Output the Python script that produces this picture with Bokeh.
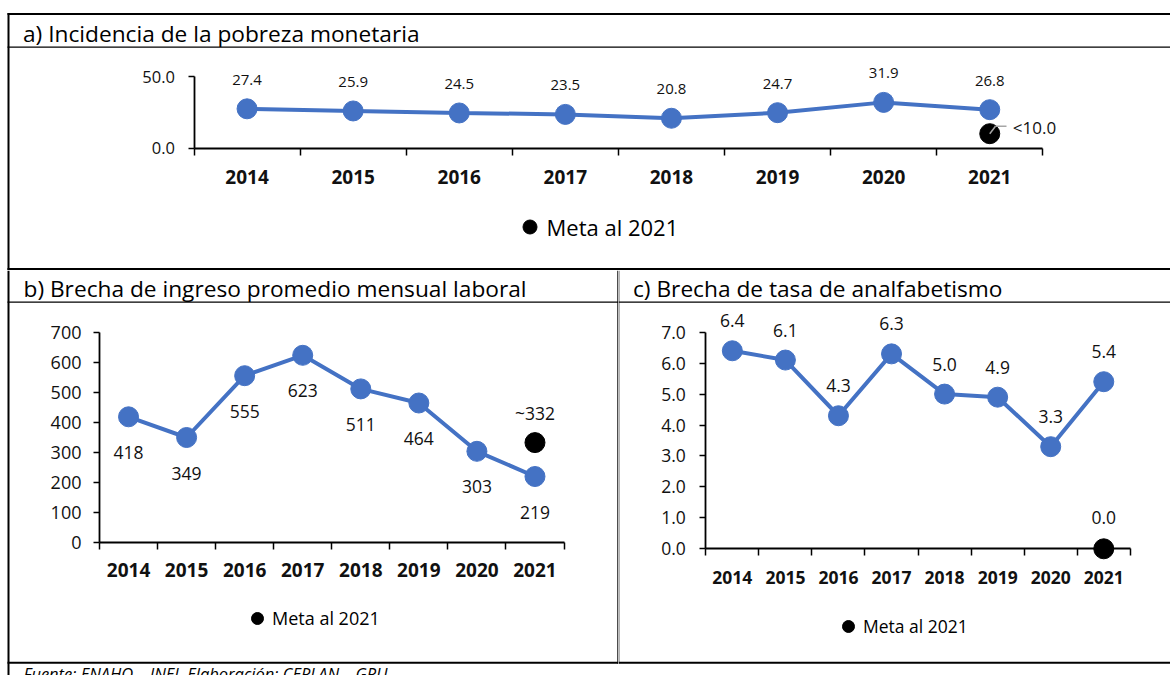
from bokeh.plotting import figure
from bokeh.models import (ColumnDataSource, LabelSet, Label, BoxAnnotation, FixedTicker,
                          Range1d, Legend, LegendItem, Arrow, PrintfTickFormatter)
from bokeh.layouts import column, row
from bokeh.embed import file_html
from bokeh.resources import INLINE
from bokeh.core.properties import value

# ---------------- data ----------------
years = [2014, 2015, 2016, 2017, 2018, 2019, 2020, 2021]

pobreza = [27.4, 25.9, 24.5, 23.5, 20.8, 24.7, 31.9, 26.8]
pobreza_meta = 10.0
pobreza_meta_label = "<10.0"

ingreso = [418, 349, 555, 623, 511, 464, 303, 219]
ingreso_meta = 332
ingreso_meta_label = "~332"

analf = [6.4, 6.1, 4.3, 6.3, 5.0, 4.9, 3.3, 5.4]
analf_meta = 0.0
analf_meta_label = "0.0"

meta_year = 2021
meta_legend = "Meta al 2021"

yticks_a = [0, 50]
yticks_b = [0, 100, 200, 300, 400, 500, 600, 700]
yticks_c = [0, 1, 2, 3, 4, 5, 6, 7]

title_a = "a) Incidencia de la pobreza monetaria"
title_b = "b) Brecha de ingreso promedio mensual laboral"
title_c = "c) Brecha de tasa de analfabetismo"
footer = "Fuente: ENAHO \u2013 INEI. Elaboración: CEPLAN \u2013 GRU"

FONT = "Open Sans"
BLUE = "#4472C4"
TXT = "#111111"
TITLE_SIZE = "22.7px"
BASE_FIX = 7.5   # Label baseline correction (px)


class Geo:
    """Figure box (ox, oy, w, h) and chart box (cl, ct, cr, cb) in page pixels.
    The frame covers the whole figure; the chart sits inside it."""
    def __init__(self, ox, oy, w, h, cl, ct, cr, cb, x0, x1, y0, y1):
        self.ox, self.oy, self.w, self.h = ox, oy, w, h
        self.cl, self.cb = cl, cb
        self.x0, self.x1, self.y0, self.y1 = x0, x1, y0, y1
        self.xs = (x1 - x0) / (cr - cl)
        self.ys = (y1 - y0) / (cb - ct)
        self.xr = (x0 - (cl - ox) * self.xs, x1 + (ox + w - cr) * self.xs)
        self.yr = (y0 - (oy + h - cb) * self.ys, y1 + (ct - oy) * self.ys)

    def dx(self, px):
        return self.x0 + (px - self.cl) * self.xs

    def dy(self, py):
        return self.y0 + (self.cb - py) * self.ys

    def sx(self, px):
        return px - self.ox

    def sy(self, py):
        return self.oy + self.h - py


def make_fig(g, yticks, yfmt, yfont, ystand, xfont, xstand):
    p = figure(width=g.w, height=g.h, output_backend="svg", toolbar_location=None,
               title=None,
               x_range=Range1d(*g.xr), y_range=Range1d(*g.yr),
               min_border_left=0, min_border_right=0, min_border_top=0, min_border_bottom=0,
               background_fill_color="white", border_fill_color="white")
    p.outline_line_color = None
    p.xgrid.visible = False
    p.ygrid.visible = False

    bounds = [years[0] - 0.5] + [y + 0.5 for y in years]
    xa = p.xaxis[0]
    xa.fixed_location = g.y0
    xa.bounds = (g.x0, g.x1)
    xa.ticker = FixedTicker(ticks=years, minor_ticks=bounds)
    xa.major_tick_in = 0
    xa.major_tick_out = 0
    xa.major_tick_line_color = None
    xa.minor_tick_in = 0
    xa.minor_tick_out = 7
    xa.minor_tick_line_color = "black"
    xa.minor_tick_line_width = 1.5
    xa.axis_line_color = "black"
    xa.axis_line_width = 1.8
    xa.major_label_text_font = FONT
    xa.major_label_text_font_style = "bold"
    xa.major_label_text_font_size = xfont
    xa.major_label_text_color = TXT
    xa.major_label_standoff = xstand

    ya = p.yaxis[0]
    ya.fixed_location = g.x0
    ya.bounds = (g.y0, g.y1)
    ya.ticker = FixedTicker(ticks=yticks, minor_ticks=[])
    ya.formatter = PrintfTickFormatter(format=yfmt)
    ya.major_tick_in = 0
    ya.major_tick_out = 6
    ya.major_tick_line_color = "black"
    ya.major_tick_line_width = 1.5
    ya.minor_tick_line_color = None
    ya.axis_line_color = "black"
    ya.axis_line_width = 1.8
    ya.major_label_text_font = FONT
    ya.major_label_text_font_size = yfont
    ya.major_label_text_color = TXT
    ya.major_label_standoff = ystand
    return p


def box(p, g, l, t, r, b):
    p.add_layout(BoxAnnotation(left=g.dx(l), right=g.dx(r), top=g.dy(t), bottom=g.dy(b),
                               fill_color="black", fill_alpha=1.0, line_color=None,
                               level="overlay"))


def text(p, g, px, py, s, size, style="normal"):
    p.add_layout(Label(x=g.dx(px), y=g.dy(py - BASE_FIX), text=s,
                       text_font=FONT, text_font_size=size, text_font_style=style,
                       text_color="black", text_align="left", text_baseline="alphabetic"))


def series(p, vals, labels, lab_size, lab_off, meta, meta_label, meta_off, meta_align="center",
           meta_xoff=0, meta_size=None):
    src = ColumnDataSource(dict(x=years, y=vals, t=labels))
    p.line("x", "y", source=src, line_width=4, line_color=BLUE)
    p.scatter("x", "y", source=src, size=20, fill_color=BLUE, line_color=BLUE)
    p.add_layout(LabelSet(x="x", y="y", text="t", source=src, y_offset=lab_off,
                          text_align="center", text_baseline="middle",
                          text_font=value(FONT), text_font_size=value(lab_size),
                          text_color=TXT))
    msrc = ColumnDataSource(dict(x=[meta_year], y=[meta], t=[meta_label]))
    r = p.scatter("x", "y", source=msrc, size=20, fill_color="black", line_color="black")
    p.add_layout(LabelSet(x="x", y="y", text="t", source=msrc, y_offset=meta_off,
                          x_offset=meta_xoff, text_align=meta_align, text_baseline="middle",
                          text_font=value(FONT), text_font_size=value(meta_size or lab_size),
                          text_color=TXT))
    return r


def legend(p, g, r, cx, cy, diam, size):
    gw = int(round(diam / 0.4))
    lg = Legend(items=[LegendItem(label=meta_legend, renderers=[r])],
                location=(g.sx(cx - gw / 2), g.sy(cy + gw / 2)),
                orientation="horizontal", padding=0, margin=0, spacing=0,
                glyph_width=gw, glyph_height=gw, label_standoff=0,
                border_line_color=None, background_fill_alpha=0,
                label_text_font=FONT, label_text_font_size=size, label_text_color="black",
                label_height=10)
    p.add_layout(lg)


W, H = 1170, 675

# ---------------- panel a ----------------
ga = Geo(0, 0, W, 270, 193.5, 76, 1042.3, 147.5,
         years[0] - 0.5, years[-1] + 0.5, yticks_a[0], yticks_a[-1])
pa = make_fig(ga, yticks_a, "%.1f", "16.5px", 13, "19px", 15)
ra = series(pa, pobreza, [f"{v:.1f}" for v in pobreza], "15px", 29,
            pobreza_meta, pobreza_meta_label, 6, meta_align="left", meta_xoff=23,
            meta_size="17px")
pa.add_layout(Arrow(end=None, x_start=meta_year, y_start=pobreza_meta,
                    x_end=ga.dx(995), y_end=ga.dy(125.7),
                    line_color="#A6A6A6", line_width=1.5, level="overlay"))
pa.add_layout(Arrow(end=None, x_start=ga.dx(995), y_start=ga.dy(125.7),
                    x_end=ga.dx(1006), y_end=ga.dy(125.7),
                    line_color="#A6A6A6", line_width=1.5, level="overlay"))
legend(pa, ga, ra, 529, 226.7, 14, "22px")
box(pa, ga, 7, 12.5, W, 14.5)
box(pa, ga, 7, 12.5, 9, 270)
box(pa, ga, 7, 46, W, 47.3)
box(pa, ga, 7, 267.5, W, 269.5)
text(pa, ga, 22.5, 40, title_a, TITLE_SIZE)

# ---------------- panel b ----------------
gb = Geo(0, 270, 618, H - 270, 99, 331.7, 563.5, 541.7,
         years[0] - 0.5, years[-1] + 0.5, yticks_b[0], yticks_b[-1])
pb = make_fig(gb, yticks_b, "%d", "18px", 12, "19px", 14)
rb = series(pb, ingreso, [f"{v:d}" for v in ingreso], "17.5px", -35.5,
            ingreso_meta, ingreso_meta_label, 30)
legend(pb, gb, rb, 257, 617.5, 12, "18px")
box(pb, gb, 7, 270, 9, H)
box(pb, gb, 7, 301, 618, 302.3)
box(pb, gb, 7, 661.3, 618, 663.3)
box(pb, gb, 616.8, 270, 618, 663.3)
text(pb, gb, 23, 295, title_b, TITLE_SIZE)
text(pb, gb, 23, 680, footer, "16.5px", "italic")

# ---------------- panel c ----------------
gc = Geo(618, 270, W - 618, H - 270, 705.3, 331.7, 1129.8, 548.3,
         years[0] - 0.5, years[-1] + 0.5, yticks_c[0], yticks_c[-1])
pc = make_fig(gc, yticks_c, "%.1f", "17.5px", 14, "17.5px", 15)
rc = series(pc, analf, [f"{v:.1f}" for v in analf], "17.5px", 30,
            analf_meta, analf_meta_label, 31.5)
legend(pc, gc, rc, 848, 625.5, 12, "17.5px")
box(pc, gc, 618, 270, 618.8, 663.3)
box(pc, gc, 618, 301, W, 302.3)
box(pc, gc, 618, 661.3, W, 663.3)
text(pc, gc, 632.5, 295, title_c, TITLE_SIZE)

layout = column(pa, row(pb, pc))
open("out.html", "w").write(file_html(layout, INLINE))
